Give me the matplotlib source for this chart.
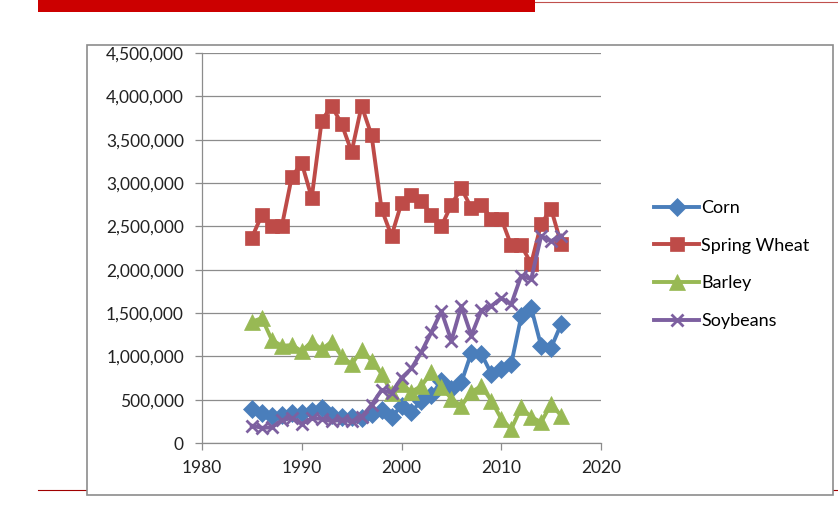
import matplotlib
matplotlib.use("Agg")
from matplotlib import pyplot as plt
from matplotlib.patches import Rectangle
from matplotlib.lines import Line2D
from matplotlib.ticker import FuncFormatter, MultipleLocator

# harvested acres by crop, 1985-2016
YEARS = list(range(1985, 2017))

CORN = [390000, 350000, 310000, 320000, 350000, 350000, 370000, 400000,
        320000, 300000, 300000, 290000, 340000, 380000, 300000, 430000,
        360000, 490000, 550000, 720000, 620000, 700000, 1040000, 1030000,
        800000, 850000, 910000, 1460000, 1560000, 1120000, 1100000, 1370000]

SPRING_WHEAT = [2370000, 2630000, 2500000, 2500000, 3070000, 3230000, 2830000, 3720000,
                3890000, 3680000, 3360000, 3890000, 3550000, 2700000, 2390000, 2770000,
                2860000, 2790000, 2630000, 2500000, 2750000, 2940000, 2710000, 2750000,
                2590000, 2590000, 2280000, 2280000, 2070000, 2530000, 2700000, 2300000]

BARLEY = [1400000, 1440000, 1190000, 1120000, 1130000, 1060000, 1170000, 1080000,
          1170000, 1000000, 910000, 1070000, 950000, 800000, 580000, 680000,
          590000, 660000, 815000, 650000, 510000, 430000, 585000, 660000,
          490000, 280000, 160000, 410000, 300000, 240000, 450000, 315000]

SOYBEANS = [200000, 175000, 180000, 260000, 290000, 220000, 285000, 280000,
            250000, 270000, 250000, 300000, 440000, 610000, 580000, 750000,
            860000, 1050000, 1280000, 1520000, 1180000, 1580000, 1240000, 1530000,
            1580000, 1670000, 1600000, 1930000, 1890000, 2390000, 2330000, 2390000]

SERIES = [
    ("Corn", CORN, "#4A7EBB", "D", 9),
    ("Spring Wheat", SPRING_WHEAT, "#BE4B48", "s", 10),
    ("Barley", BARLEY, "#98B954", "^", 11),
    ("Soybeans", SOYBEANS, "#7D60A0", "x", 9),
]

plt.rcParams["font.family"] = ["Lato", "DejaVu Sans"]

W, H = 838, 519
fig = plt.figure(figsize=(W / 100, H / 100), dpi=100)

# slide decoration: red header bar and thin rules, drawn behind the chart frame
fig.add_artist(Rectangle((38 / W, 1 - 12 / H), (535 - 38) / W, 12 / H,
                         transform=fig.transFigure, color="#CC0000", lw=0, zorder=-3))
fig.add_artist(Line2D([535 / W, 1], [1 - 2 / H, 1 - 2 / H], transform=fig.transFigure,
                      color="#C0504D", lw=0.8, zorder=-3))
fig.add_artist(Line2D([38 / W, 1], [1 - 490 / H, 1 - 490 / H], transform=fig.transFigure,
                      color="#A00000", lw=0.8, zorder=-3))
fig.add_artist(Rectangle((87 / W, 1 - 495 / H), (833 - 87) / W, (495 - 45) / H,
                         transform=fig.transFigure, facecolor="white",
                         edgecolor="#8C8C8C", lw=1.2, zorder=-2))

ax = fig.add_axes([202 / W, 1 - 443 / H, (601 - 202) / W, (443 - 53) / H])
ax.patch.set_alpha(0)

for name, values, color, marker, size in SERIES:
    ax.plot(YEARS, values, color=color, lw=2.8, marker=marker, markersize=size,
            markeredgewidth=2.0 if marker == "x" else 0.5, markeredgecolor=color,
            markerfacecolor=color, label=name, clip_on=False)

ax.set_xlim(1980, 2020)
ax.set_ylim(0, 4500000)
ax.xaxis.set_major_locator(MultipleLocator(10))
ax.yaxis.set_major_locator(MultipleLocator(500000))
ax.yaxis.set_major_formatter(FuncFormatter(lambda v, _: f"{int(v):,}"))
ax.grid(axis="y", color="#8C8C8C", lw=0.9)
ax.set_axisbelow(True)
for side in ("top", "right"):
    ax.spines[side].set_visible(False)
for side in ("left", "bottom"):
    ax.spines[side].set_color("#8C8C8C")
    ax.spines[side].set_linewidth(0.9)
ax.tick_params(colors="#8C8C8C", labelcolor="#222222", labelsize=12.5, length=5, width=0.9)
ax.tick_params(axis="y", pad=8)
ax.tick_params(axis="x", pad=7)

leg = ax.legend(loc="upper left", bbox_to_anchor=(645 / W, 1 - 191 / H),
                bbox_transform=fig.transFigure, frameon=False, fontsize=13,
                handlelength=2.5, handletextpad=0.1, labelspacing=1.2, borderpad=0)

fig.savefig("out.png", dpi=100)
